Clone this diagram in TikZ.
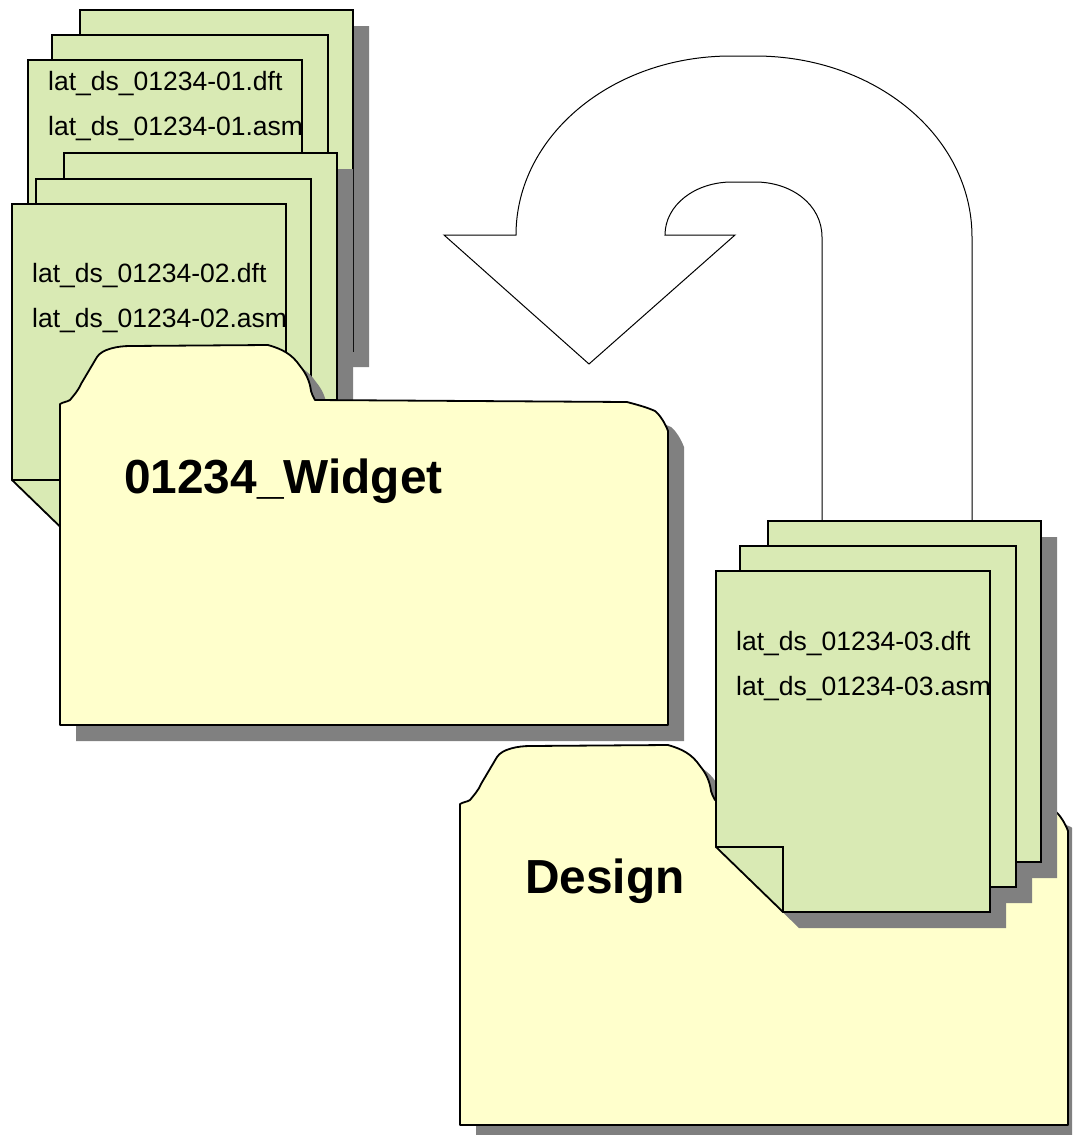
\documentclass[tikz,border=0pt]{standalone}
\usepackage{fontspec}
\setmainfont{Liberation Sans}
\definecolor{sheetgreen}{HTML}{D9EAB4}
\definecolor{folderyellow}{HTML}{FFFFCC}
\definecolor{shadowgray}{HTML}{808080}
\tikzset{
  sheetline/.style={draw=black, line width=1.8pt, line join=miter, fill=sheetgreen},
  foldline/.style={draw=black, line width=1.3pt},
  folderline/.style={draw=black, line width=1.8pt, line join=round, fill=folderyellow},
  shadowfill/.style={fill=shadowgray},
  filelabel/.style={anchor=base west, inner sep=0pt, font=\fontsize{26.5}{30}\selectfont},
  foldertitle/.style={anchor=base west, inner sep=0pt, font=\fontsize{47.8}{54}\selectfont\bfseries}
}
\newcommand{\plotStack}[1]{
  % Draw the shadows first, so no page shades the next one
  \foreach \x/\y/\w in {#1} {
    \fill[shadowfill, shift={(\x,\y)}] (16,16) -- (\w+16,16) -- (\w+16,357) -- (83,357) -- (16,292) -- cycle;
  }
  % Draw the pages and their folded corners
  \foreach \x/\y/\w in {#1} {
    \filldraw[sheetline, shift={(\x,\y)}] (0,0) -- (\w,0) -- (\w,341) -- (67,341) -- (0,276) -- cycle;
    \draw[foldline, shift={(\x,\y)}] (0,276) -- (67,276) -- (67,341);
  }
}
\newcommand{\plotFolder}[2]{
  \begin{scope}[shift={(#1,#2)}]
    \foreach \off/\look in {16/shadowfill, 0/folderline} {
      \path[\look, shift={(\off,\off)}] (0,325) -- (0,4)
        .. controls (3,2) and (7,2) .. (10,0)
        .. controls (14,-5) and (18,-9) .. (21,-16)
        -- (37,-43)
        .. controls (42,-51) and (58,-54) .. (70,-54)
        -- (208,-55)
        .. controls (222,-51) and (232,-46) .. (240,-34)
        .. controls (246,-27) and (250,-18) .. (251,-9)
        .. controls (252,-6) and (253,-3) .. (255,0)
        -- (567,2)
        .. controls (578,5) and (586,7) .. (595,11)
        .. controls (600,15) and (605,23) .. (608,31)
        -- (608,325) -- cycle;
    }
  \end{scope}
}
\begin{document}
\begin{tikzpicture}[x=1pt, y=-1pt]
  \useasboundingbox (0,0) rectangle (1072,1135);
  \clip (0,0) rectangle (1072,1135);

  % Upper stack of pages
  \plotStack{80/10/273, 52/35/276, 28/60/274}
  \node[filelabel] (dftone) at (48,90) {lat\_ds\_01234-01.dft};
  \node[filelabel] (asmone) at (48,135) {lat\_ds\_01234-01.asm};

  % Lower stack of pages
  \plotStack{64/153/273, 36/179/275, 12/204/274}
  \node[filelabel] (dfttwo) at (32,282) {lat\_ds\_01234-02.dft};
  \node[filelabel] (asmtwo) at (32,327) {lat\_ds\_01234-02.asm};

  % Widget folder
  \plotFolder{60}{400}
  \node[foldertitle] (widget) at (124,493) {01234\_Widget};

  % Return arrow
  \filldraw[draw=black, line width=1pt, fill=white] (822,521) -- (822,237)
    .. controls (822,205) and (792,182) .. (755,182)
    -- (732,182)
    .. controls (695,182) and (665,205) .. (665,235)
    -- (735,235) -- (589,364) -- (444,235) -- (516,235)
    .. controls (516,136) and (612,56) .. (731,56)
    -- (755,56)
    .. controls (875,56) and (972,136) .. (972,237)
    -- (972,521);

  % Design folder and its pages
  \plotFolder{460}{800}
  \node[foldertitle] (design) at (525,893) {Design};
  \plotStack{768/521/273, 740/546/276, 716/571/274}
  \node[filelabel] (dftthree) at (736,650) {lat\_ds\_01234-03.dft};
  \node[filelabel] (asmthree) at (736,695) {lat\_ds\_01234-03.asm};
\end{tikzpicture}
\end{document}
